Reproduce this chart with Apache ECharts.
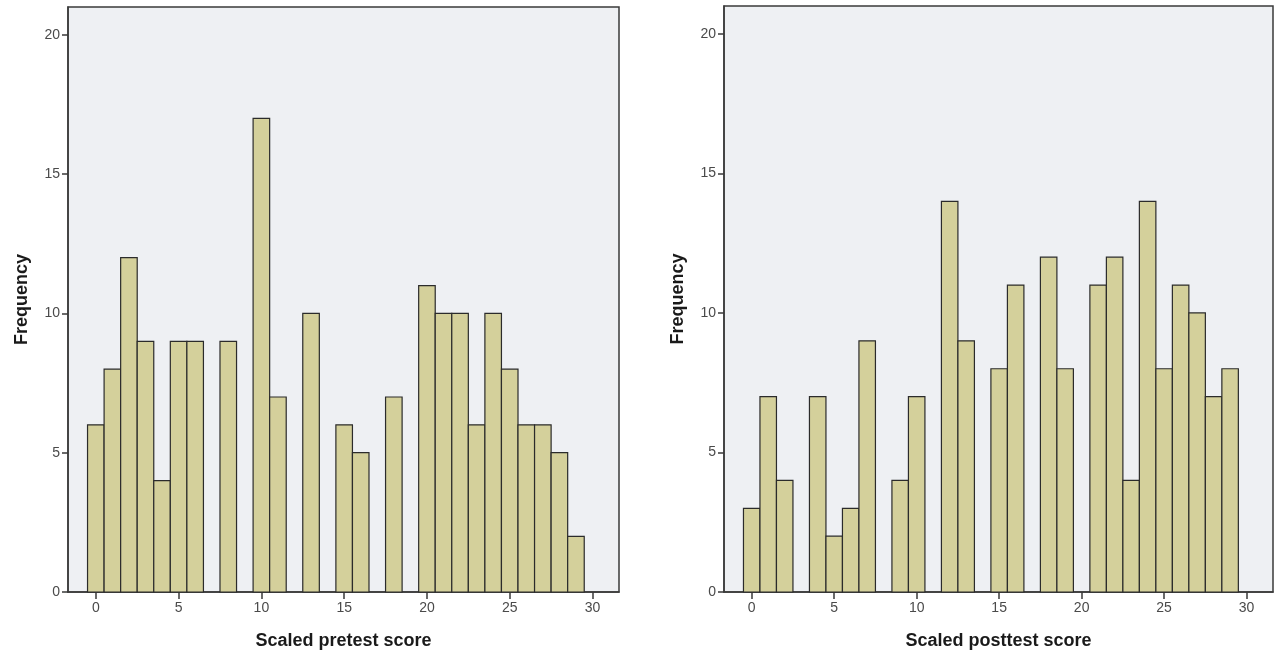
<!DOCTYPE html>
<html>
<head>
  <meta charset="utf-8">
  <title>Scaled scores</title>
  <script src="https://cdn.jsdelivr.net/npm/echarts@6/dist/echarts.min.js"></script>
  <style>
    html, body { margin: 0; padding: 0; background: #fff; }
    #main { width: 1275px; height: 656px; }
  </style>
</head>
<body>
<div id="main"></div>
<script type="text/javascript">
// score bins 0..29
var scores = [];
for (var s = 0; s < 30; s++) scores.push(s);
var pretestFreq  = [6, 8, 12, 9, 4, 9, 9, 0, 9, 0, 17, 7, 0, 10, 0, 6, 5, 0, 7, 0, 11, 10, 10, 6, 10, 8, 6, 6, 5, 2];
var posttestFreq = [3, 7, 4, 0, 7, 2, 3, 9, 0, 4, 7, 0, 14, 9, 0, 8, 11, 0, 12, 8, 0, 11, 12, 4, 14, 8, 11, 10, 7, 8];
var xTicks = [0, 5, 10, 15, 20, 25, 30];
var yTicks = [0, 5, 10, 15, 20];

var chart = echarts.init(document.getElementById('main'));
var font = 'Arial, "Liberation Sans", sans-serif';

function pairs(freq) {
  var out = [];
  for (var i = 0; i < scores.length; i++) {
    if (freq[i] > 0) out.push([scores[i], freq[i]]);
  }
  return out;
}

function renderBar(params, api) {
  var x = api.value(0), y = api.value(1);
  var p0 = api.coord([x - 0.5, y]);
  var p1 = api.coord([x + 0.5, 0]);
  return {
    type: 'rect',
    shape: { x: p0[0], y: p0[1], width: p1[0] - p0[0], height: p1[1] - p0[1] },
    style: { fill: '#d4d09b', stroke: '#2b2b2b', lineWidth: 1.2 }
  };
}

function xAxis(idx, title) {
  return {
    type: 'value', gridIndex: idx, min: -1.68, max: 31.6,
    name: title, nameLocation: 'middle', nameGap: 40,
    nameTextStyle: { fontFamily: font, fontWeight: 'bold', fontSize: 18, color: '#1a1a1a' },
    splitLine: { show: false },
    axisLine: { show: true, onZero: false, lineStyle: { color: '#3a3a3a', width: 1.5 } },
    axisTick: { show: true, inside: false, length: 7, customValues: xTicks, lineStyle: { color: '#3a3a3a', width: 1.5 } },
    axisLabel: { customValues: xTicks, margin: 9, fontFamily: font, fontSize: 14, color: '#4a4a4a' }
  };
}

function yAxis(idx, title) {
  return {
    type: 'value', gridIndex: idx, min: 0, max: 21,
    name: title, nameLocation: 'middle', nameGap: 37,
    nameTextStyle: { fontFamily: font, fontWeight: 'bold', fontSize: 18, color: '#1a1a1a' },
    splitLine: { show: false },
    axisLine: { show: true, onZero: false, lineStyle: { color: '#3a3a3a', width: 1.5 } },
    axisTick: { show: true, length: 6, customValues: yTicks, lineStyle: { color: '#3a3a3a', width: 1.5 } },
    axisLabel: { customValues: yTicks, margin: 8, fontFamily: font, fontSize: 14, color: '#4a4a4a' }
  };
}

chart.setOption({
  animation: false,
  grid: [
    { left: 68, right: 656, top: 7, bottom: 64, show: true, backgroundColor: '#eef0f3', borderColor: '#3a3a3a', borderWidth: 1.5 },
    { left: 724, right: 2, top: 6, bottom: 64, show: true, backgroundColor: '#eef0f3', borderColor: '#3a3a3a', borderWidth: 1.5 }
  ],
  xAxis: [xAxis(0, 'Scaled pretest score'), xAxis(1, 'Scaled posttest score')],
  yAxis: [yAxis(0, 'Frequency'), yAxis(1, 'Frequency')],
  series: [
    { type: 'custom', xAxisIndex: 0, yAxisIndex: 0, renderItem: renderBar, data: pairs(pretestFreq) },
    { type: 'custom', xAxisIndex: 1, yAxisIndex: 1, renderItem: renderBar, data: pairs(posttestFreq) }
  ]
});
</script>
</body>
</html>
